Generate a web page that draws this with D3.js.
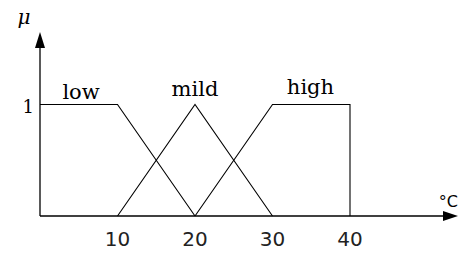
<!DOCTYPE html>
<html><head><meta charset="utf-8">
<script src="https://cdn.jsdelivr.net/npm/d3@7/dist/d3.min.js"></script>
<style>body{margin:0;background:#fff}svg{display:block}</style>
</head><body>
<script>
const tickValues = [10, 20, 30, 40];
const lowPts = [[0,1],[10,1],[20,0]];
const mildPts = [[10,0],[20,1],[30,0]];
const highPts = [[20,0],[30,1],[40,1],[40,0]];
const setNames = ["low","mild","high"];
const labelX = [5.3, 20, 34.9];
const labelY = [1.05, 1.08, 1.09];

const W=458,H=255;
const x = d3.scaleLinear().domain([0,40]).range([40,350]);
const y = d3.scaleLinear().domain([0,1]).range([216,104.5]);
const svg = d3.select("body").append("svg").attr("width",W).attr("height",H);

// axes
svg.append("line").attr("x1",x(0)).attr("x2",446).attr("y1",y(0)).attr("y2",y(0)).attr("stroke","#000").attr("stroke-width",1.3);
svg.append("line").attr("x1",x(0)).attr("x2",x(0)).attr("y1",y(0)).attr("y2",46).attr("stroke","#000").attr("stroke-width",1.3);
svg.append("path").attr("d",`M${x(0)-5},48 L${x(0)},32 L${x(0)+5},48 Z`).attr("fill","#000");
svg.append("path").attr("d",`M443,${y(0)-5} L458,${y(0)} L443,${y(0)+5} Z`).attr("fill","#000");

const line = d3.line().x(d=>x(d[0])).y(d=>y(d[1]));
[lowPts, mildPts, highPts].forEach(p=>{
  svg.append("path").attr("d",line(p)).attr("fill","none").attr("stroke","#000").attr("stroke-width",1.1);
});

// tick labels
svg.selectAll("text.tick").data(tickValues).enter().append("text")
  .attr("x",d=>x(d)).attr("y",246).attr("text-anchor","middle")
  .attr("font-family","DejaVu Sans").attr("font-size",20).attr("fill","#222").text(d=>d);
svg.append("text").attr("x",34).attr("y",113).attr("text-anchor","end")
  .attr("font-family","DejaVu Serif").attr("font-size",18).text("1");

svg.selectAll("text.set").data(setNames).enter().append("text")
  .attr("x",(d,i)=>x(labelX[i])).attr("y",(d,i)=>y(labelY[i])).attr("text-anchor","middle")
  .attr("font-family","DejaVu Serif").attr("font-size",21).text(d=>d);

svg.append("text").attr("x",24).attr("y",24).attr("text-anchor","middle")
  .attr("font-family","DejaVu Serif").attr("font-style","italic").attr("font-size",20).text("μ");
svg.append("text").attr("x",458).attr("y",207).attr("text-anchor","end")
  .attr("font-family","DejaVu Sans").attr("font-size",16).text("°C");
</script>
</body></html>
